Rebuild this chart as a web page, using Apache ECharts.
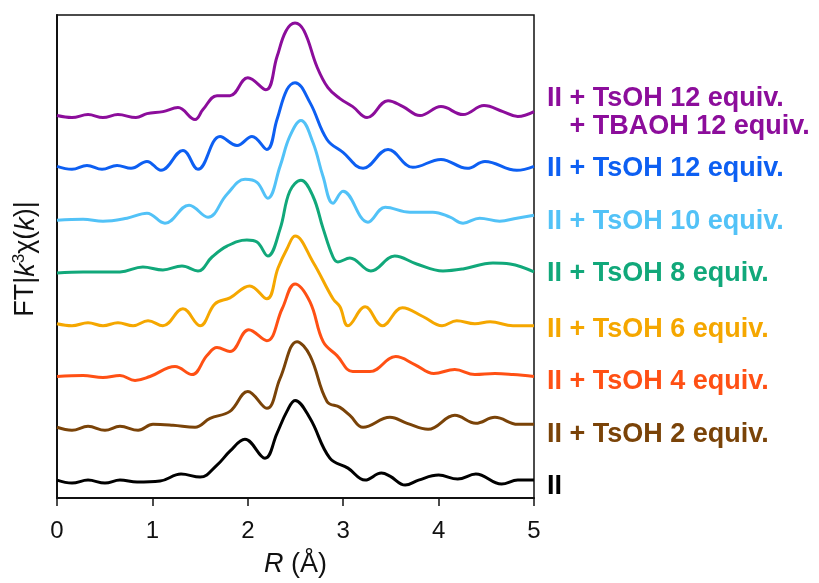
<!DOCTYPE html>
<html>
<head>
<meta charset="utf-8">
<script src="https://cdn.jsdelivr.net/npm/echarts@6/dist/echarts.min.js"></script>
<style>
  html, body { margin: 0; padding: 0; background: #fff; }
  #chart { width: 819px; height: 583px; }
</style>
</head>
<body>
<div id="chart"></div>
<script>
// FT magnitude of k^3-weighted EXAFS, stacked with vertical offsets (arb. units), R in Å
const xTicks = [0, 1, 2, 3, 4, 5];

const ftII = [[0,18],[0.157,15],[0.325,18],[0.503,15],[0.66,18],[0.839,16],[1.08,17],[1.30,24],[1.5,21],[1.677,33],[1.813,47],[1.97,59],[2.18,40],[2.306,65],[2.41,87],[2.495,98],[2.652,80],[2.86,40],[3.05,30],[3.23,18],[3.40,25],[3.49,22],[3.65,13],[3.79,18],[4.00,23],[4.20,19],[4.39,24],[4.66,14],[4.83,18],[5.0,18]];

const ftTs2 = [[0,71],[0.157,68],[0.325,72],[0.503,68],[0.66,72],[0.85,68],[1.006,74],[1.216,73],[1.447,71],[1.604,80],[1.813,87],[2.00,107],[2.20,90],[2.338,120],[2.516,157],[2.652,143],[2.83,97],[2.966,91],[3.07,83],[3.208,71],[3.49,81],[3.67,75],[3.89,69],[4.17,83],[4.39,75],[4.59,81],[4.83,74],[5.0,74]];

const ftTs4 = [[0,122],[0.273,123],[0.482,121],[0.66,123],[0.818,118],[0.975,122],[1.237,132],[1.415,124],[1.572,143],[1.677,151],[1.813,147],[2.01,169],[2.20,158],[2.36,190],[2.495,215],[2.652,197],[2.79,157],[2.935,143],[3.10,127],[3.28,127],[3.55,142],[3.75,134],[3.95,125],[4.17,129],[4.38,124],[4.59,125],[4.78,124],[5.0,122]];

const ftTs6 = [[0,175],[0.157,173],[0.325,176],[0.482,173],[0.639,176],[0.797,173],[0.954,178],[1.11,173],[1.32,190],[1.5,173],[1.656,195],[1.813,201],[2.02,213],[2.20,200],[2.317,231],[2.41,250],[2.495,263],[2.683,237],[2.893,200],[2.966,192],[3.05,173],[3.23,192],[3.41,173],[3.62,191],[3.84,182],[4.036,173],[4.19,178],[4.38,175],[4.54,177],[4.78,173],[5.0,173]];

const ftTs8 = [[0,226],[0.273,227],[0.66,227],[0.90,232],[1.11,229],[1.31,233],[1.478,228],[1.625,242],[1.782,253],[1.99,259],[2.096,257],[2.21,243],[2.338,270],[2.44,308],[2.557,319],[2.683,303],[2.788,271],[2.893,242],[2.945,237],[3.07,241],[3.29,228],[3.54,243],[3.77,235],[4.046,228],[4.256,230],[4.57,236],[4.75,235],[5.0,227]];

const ftTs10 = [[0,279],[0.273,280],[0.482,278],[0.734,281],[0.943,286],[1.132,276],[1.384,294],[1.583,282],[1.782,305],[1.971,320],[2.096,317],[2.21,301],[2.338,333],[2.44,363],[2.557,379],[2.683,357],[2.788,323],[2.893,296],[2.998,308],[3.26,277],[3.44,292],[3.70,287],[3.94,287],[4.12,282],[4.256,276],[4.43,281],[4.64,278],[4.82,281],[5.0,284]];

const ftTs12 = [[0,333],[0.157,330],[0.314,334],[0.472,330],[0.629,334],[0.776,331],[0.943,338],[1.09,329],[1.32,349],[1.478,330],[1.709,363],[1.887,354],[2.044,363],[2.20,350],[2.306,380],[2.41,410],[2.495,417],[2.652,397],[2.83,360],[2.998,347],[3.208,331],[3.47,350],[3.73,332],[4.025,340],[4.30,331],[4.486,338],[4.82,329],[5.0,333]];

const ftTs12Tb12 = [[0,384],[0.157,382],[0.325,385],[0.482,382],[0.639,385],[0.828,382],[0.943,386],[1.111,388],[1.268,392],[1.447,380],[1.53,390],[1.677,404],[1.813,404],[2.00,422],[2.19,410],[2.306,443],[2.40,469],[2.495,477],[2.59,469],[2.725,433],[2.84,412],[2.966,401],[3.10,393],[3.25,382],[3.47,399],[3.627,393],[3.805,384],[4.025,393],[4.256,385],[4.476,394],[4.675,388],[4.83,383],[5.0,388]];

const seriesData = [ftII, ftTs2, ftTs4, ftTs6, ftTs8, ftTs10, ftTs12, ftTs12Tb12];
const seriesNames = [
  'II',
  'II + TsOH 2 equiv.',
  'II + TsOH 4 equiv.',
  'II + TsOH 6 equiv.',
  'II + TsOH 8 equiv.',
  'II + TsOH 10 equiv.',
  'II + TsOH 12 equiv.',
  'II + TsOH 12 equiv.\n   + TBAOH 12 equiv.'
];
const seriesColors = ['#000000', '#7a4308', '#ff5014', '#f5a700', '#11a87a', '#52c2f7', '#0d5ff2', '#8c0d9b'];

// vertical centre of each curve label (first line), in pixels
const labelTop = [487, 435, 382, 330, 274, 222, 169, 99];

const chart = echarts.init(document.getElementById('chart'), null, { renderer: 'canvas' });

const FONT = '"Liberation Sans", Arial, sans-serif';

const graphics = seriesNames.map((name, i) => ({
  type: 'text',
  left: 547,
  top: labelTop[i] - 14,
  style: {
    text: name,
    fill: seriesColors[i],
    font: 'bold 27px ' + FONT,
    lineHeight: 28
  },
  z: 10
}));

graphics.push({
  type: 'text',
  x: 26,
  y: 259,
  rotation: Math.PI / 2,
  style: {
    text: 'FT|{i|k}{s|3}χ({i|k})|',
    fill: '#111',
    font: '27px ' + FONT,
    align: 'center',
    verticalAlign: 'middle',
    rich: {
      i: { fontStyle: 'italic', fontSize: 27, fontFamily: FONT, fill: '#111' },
      s: { fontSize: 17, fontFamily: FONT, fill: '#111', verticalAlign: 'top', lineHeight: 30 }
    }
  },
  z: 10
});

chart.setOption({
  animation: false,
  backgroundColor: '#fff',
  grid: {
    left: 57, right: 285, top: 15, bottom: 83,
    show: true, borderColor: '#111', borderWidth: 1.5, backgroundColor: 'transparent'
  },
  xAxis: {
    type: 'value',
    min: xTicks[0], max: xTicks[xTicks.length - 1], interval: 1,
    name: '{i|R} (Å)',
    nameLocation: 'middle',
    nameGap: 53,
    nameTextStyle: {
      fontSize: 27, fontFamily: FONT, color: '#111',
      rich: { i: { fontStyle: 'italic', fontSize: 27, fontFamily: FONT, color: '#111' } }
    },
    axisLine: { show: true, lineStyle: { color: '#111', width: 2 } },
    axisTick: { show: true, inside: false, length: 8, lineStyle: { color: '#111', width: 1.5 } },
    axisLabel: { fontSize: 24, fontFamily: FONT, color: '#111', margin: 21 },
    splitLine: { show: false }
  },
  yAxis: {
    type: 'value',
    min: 0, max: 485,
    axisLine: { show: true, lineStyle: { color: '#111', width: 2 } },
    axisTick: { show: false },
    axisLabel: { show: false },
    splitLine: { show: false }
  },
  series: seriesData.map((d, i) => ({
    name: seriesNames[i],
    type: 'line',
    data: d,
    smooth: 0.4,
    showSymbol: false,
    symbol: 'none',
    clip: true,
    lineStyle: { color: seriesColors[i], width: 3 },
    itemStyle: { color: seriesColors[i] }
  })),
  graphic: graphics
});
</script>
</body>
</html>
